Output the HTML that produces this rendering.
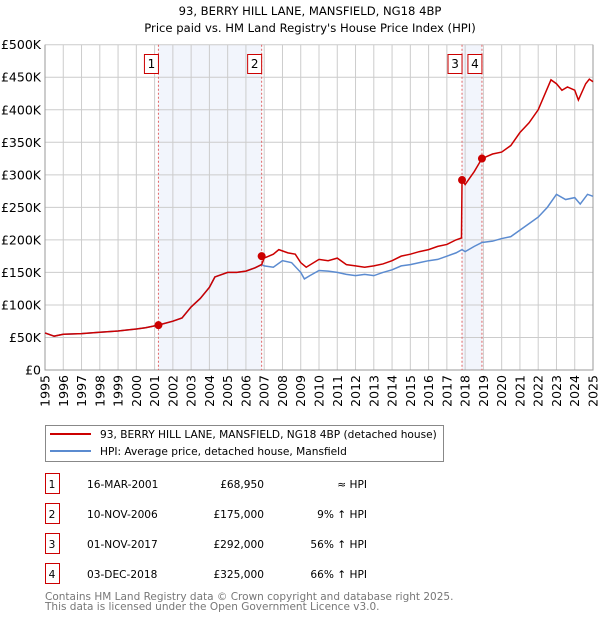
<!DOCTYPE html>
<html><head><meta charset="utf-8"><style>
body{margin:0;background:#fff;font-family:"DejaVu Sans","Liberation Sans",sans-serif;}
#wrap{position:relative;width:600px;height:620px;overflow:hidden}
</style></head><body><div id="wrap">
<svg id="chart" width="600" height="620" style="position:absolute;left:0;top:0;font-family:'DejaVu Sans','Liberation Sans',sans-serif"></svg>
</div>
<script>
const hpiYears=[1995,1995.5,1996,1997,1998,1999,2000,2000.5,2001.2,2002,2002.5,2003,2003.5,2004,2004.3,2005,2005.5,2006,2006.5,2006.86,2007,2007.5,2008,2008.5,2009,2009.2,2009.5,2010,2010.5,2011,2011.5,2012,2012.5,2013,2013.5,2014,2014.5,2015,2015.5,2016,2016.5,2017,2017.5,2017.83,2018,2018.5,2018.92,2019.5,2020,2020.5,2021,2021.5,2022,2022.5,2023,2023.5,2024,2024.3,2024.7,2025];
const hpiValues=[57,52,55,56,58,60,63,65,69,75,80,97,110,127,143,150,150,152,157,162,160,158,168,165,150,140,145,153,152,150,147,145,147,145,150,154,160,162,165,168,170,175,180,185,182,190,196,198,202,205,215,225,235,250,270,262,265,255,270,267];
const paidYears=[1995,1995.5,1996,1997,1998,1999,2000,2000.5,2001.2,2002,2002.5,2003,2003.5,2004,2004.3,2005,2005.5,2006,2006.5,2006.86,2007,2007.5,2007.8,2008.3,2008.7,2009,2009.3,2010,2010.5,2011,2011.5,2012,2012.5,2013,2013.5,2014,2014.5,2015,2015.5,2016,2016.5,2017,2017.5,2017.8,2017.83,2018,2018.5,2018.92,2019.5,2020,2020.5,2021,2021.5,2022,2022.7,2023,2023.3,2023.6,2024,2024.2,2024.6,2024.8,2025];
const paidValues=[57,52,55,56,58,60,63,65,69,75,80,97,110,127,143,150,150,152,157,162,172,178,185,180,178,165,158,170,168,172,162,160,158,160,163,168,175,178,182,185,190,193,200,203,292,285,305,325,332,335,345,365,380,400,446,440,430,435,430,415,440,447,443];
const saleYears=[2001.21,2006.86,2017.83,2018.92];
const salePrices=[68.95,175,292,325];
const saleLabels=["1","2","3","4"];
const yTicks=[0,50,100,150,200,250,300,350,400,450,500];
const yTickLabels=["£0","£50K","£100K","£150K","£200K","£250K","£300K","£350K","£400K","£450K","£500K"];
const xTicks=[1995,1996,1997,1998,1999,2000,2001,2002,2003,2004,2005,2006,2007,2008,2009,2010,2011,2012,2013,2014,2015,2016,2017,2018,2019,2020,2021,2022,2023,2024,2025];

const L=45,R=593,T=44.7,B=370;
const X=y=>L+(y-1995)/30*(R-L);
const Y=v=>B-v/500*(B-T);
const svg=document.getElementById('chart');
const NS='http://www.w3.org/2000/svg';
function mk(tag,attrs,parent){const e=document.createElementNS(NS,tag);for(const k in attrs)e.setAttribute(k,attrs[k]);(parent||svg).appendChild(e);return e;}

let t=mk('text',{x:310,y:15,'text-anchor':'middle','font-size':'11.6',fill:'#000'});t.textContent='93, BERRY HILL LANE, MANSFIELD, NG18 4BP';


t=mk('text',{x:310,y:32,'text-anchor':'middle','font-size':'11.6',fill:'#000'});t.textContent="Price paid vs. HM Land Registry's House Price Index (HPI)";



for(let i=0;i<4;i+=2){const r=mk('rect',{x:X(saleYears[i]),y:T,width:X(saleYears[i+1])-X(saleYears[i]),height:B-T,fill:'#eef2fb',opacity:0.75});

}
yTicks.forEach((v,i)=>{const l=mk('line',{x1:L,x2:R,y1:Y(v),y2:Y(v),stroke:'#cccccc','stroke-width':1});


const tx=mk('text',{x:L-4,y:Y(v)+4.5,'text-anchor':'end','font-size':'12.5',fill:'#000'});tx.textContent=yTickLabels[i];

});
xTicks.forEach(yr=>{const l=mk('line',{x1:X(yr),x2:X(yr),y1:T,y2:B,stroke:'#cccccc','stroke-width':1});


const tx=mk('text',{x:0,y:0,'text-anchor':'end','font-size':'12.5',fill:'#000',transform:`translate(${X(yr)+4.5},375) rotate(-90)`});tx.textContent=yr;

});
const ax=mk('path',{d:`M${L},${T}V${B}H${R}V${T}`,fill:'none',stroke:'#999','stroke-width':1});



saleYears.forEach((yr,i)=>{const l=mk('line',{x1:X(yr),x2:X(yr),y1:T,y2:B,stroke:'#e06666','stroke-width':1,'stroke-dasharray':'2,2'});


const bx=mk('rect',{x:X(yr)-14,y:54.5,width:14,height:19,fill:'#fff',stroke:'#cc0000','stroke-width':1});


const tx=mk('text',{x:X(yr)-7,y:68,'text-anchor':'middle','font-size':'12',fill:'#000'});tx.textContent=saleLabels[i];

});

const hp=mk('polyline',{points:hpiYears.map((y,i)=>X(y)+','+Y(hpiValues[i])).join(' '),fill:'none',stroke:'#5b8bd0','stroke-width':1.5});


const pp=mk('polyline',{points:paidYears.map((y,i)=>X(y)+','+Y(paidValues[i])).join(' '),fill:'none',stroke:'#cc0000','stroke-width':1.5});


saleYears.forEach((yr,i)=>{const c=mk('circle',{cx:X(yr),cy:Y(salePrices[i]),r:4,fill:'#cc0000'});

});

const lg=mk('rect',{x:45.5,y:425.5,width:398,height:36,fill:'#fff',stroke:'#888','stroke-width':1});


[['#cc0000','93, BERRY HILL LANE, MANSFIELD, NG18 4BP (detached house)',434],['#5b8bd0','HPI: Average price, detached house, Mansfield',451]].forEach(d=>{
const l=mk('line',{x1:50,x2:91,y1:d[2],y2:d[2],stroke:d[0],'stroke-width':2});


const tx=mk('text',{x:100,y:d[2]+4,'font-size':'10.6',fill:'#000'});tx.textContent=d[1];

});

const rows=[["1","16-MAR-2001","£68,950","≈ HPI"],["2","10-NOV-2006","£175,000","9% ↑ HPI"],["3","01-NOV-2017","£292,000","56% ↑ HPI"],["4","03-DEC-2018","£325,000","66% ↑ HPI"]];
rows.forEach((r,i)=>{const y=483+i*30;
const b=mk('rect',{x:45.5,y:y-9.5,width:14,height:20,fill:'#fff',stroke:'#cc0000','stroke-width':1});


const cells=[[52,'middle',r[0]],[87,'start',r[1]],[264,'end',r[2]],[367,'end',r[3]]];
cells.forEach(c=>{const tx=mk('text',{x:c[0],y:y+5,'text-anchor':c[1],'font-size':'10.6',fill:'#000'});tx.textContent=c[2];

});});

[['Contains HM Land Registry data © Crown copyright and database right 2025.',600],['This data is licensed under the Open Government Licence v3.0.',610]].forEach(d=>{
const tx=mk('text',{x:45,y:d[1],'font-size':'10.5',fill:'#777'});tx.textContent=d[0];

});
</script></body></html>
